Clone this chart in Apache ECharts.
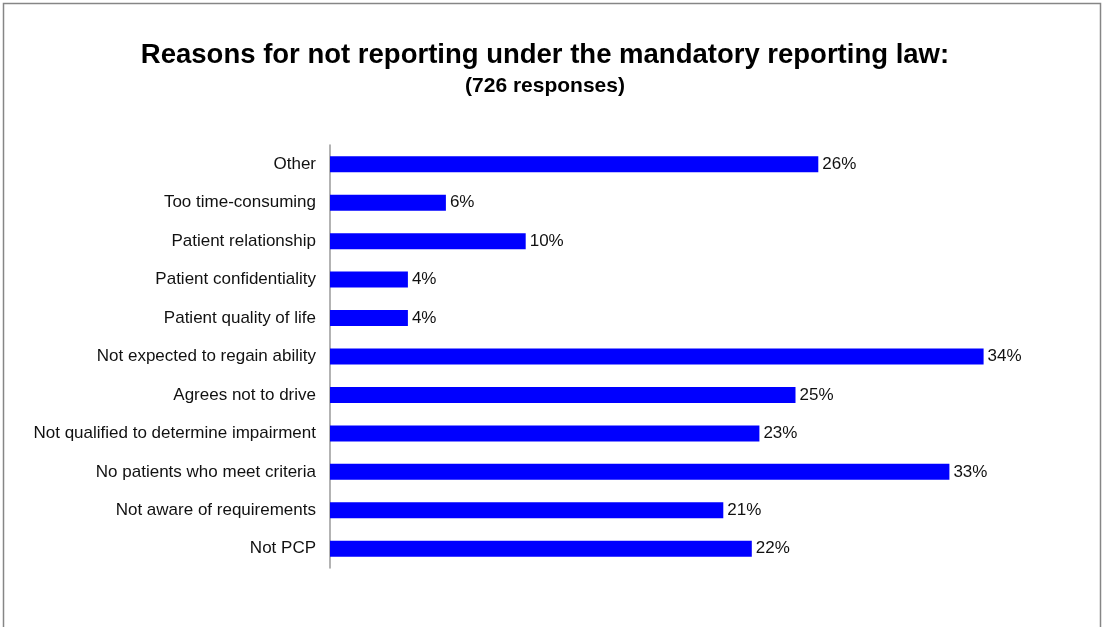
<!DOCTYPE html>
<html>
<head>
<meta charset="utf-8">
<script src="https://cdn.jsdelivr.net/npm/echarts@6/dist/echarts.min.js"></script>
<style>
html,body{margin:0;padding:0;background:#fff;}
#chart{width:1105px;height:627px;}
</style>
</head>
<body>
<div id="chart"></div>
<script>
var titleText = 'Reasons for not reporting under the mandatory reporting law:';
var subtitleText = '(726 responses)';
var categories = [
  'Other',
  'Too time-consuming',
  'Patient relationship',
  'Patient confidentiality',
  'Patient quality of life',
  'Not expected to regain ability',
  'Agrees not to drive',
  'Not qualified to determine impairment',
  'No patients who meet criteria',
  'Not aware of requirements',
  'Not PCP'
];
var values = [25.7, 6.1, 10.3, 4.1, 4.1, 34.4, 24.5, 22.6, 32.6, 20.7, 22.2];

var chart = echarts.init(document.getElementById('chart'), null, {renderer: 'canvas'});
var font = 'Liberation Sans, Arial, Helvetica, sans-serif';
chart.setOption({
  backgroundColor: '#ffffff',
  animation: false,
  title: {
    text: titleText,
    subtext: subtitleText,
    left: 540,
    textAlign: 'center',
    top: 36,
    itemGap: 7,
    textStyle: {fontFamily: font, fontWeight: 'bold', fontSize: 27.5, color: '#000'},
    subtextStyle: {fontFamily: font, fontWeight: 'bold', fontSize: 21, color: '#000'}
  },
  graphic: [{
    type: 'rect',
    shape: {x: 3.5, y: 3.5, width: 1097, height: 660},
    style: {fill: 'none', stroke: '#868686', lineWidth: 1.5},
    silent: true
  }],
  grid: {left: 330, top: 145, width: 760, height: 423, containLabel: false},
  xAxis: {
    type: 'value', min: 0, max: 40,
    show: false
  },
  yAxis: {
    type: 'category',
    data: categories,
    inverse: true,
    axisLine: {show: true, lineStyle: {color: '#9a9a9a', width: 1.5}},
    axisTick: {show: false},
    axisLabel: {fontFamily: font, fontSize: 17, color: '#111', margin: 14, padding: [2, 0, 0, 0]}
  },
  series: [{
    type: 'bar',
    data: values,
    barWidth: 16,
    itemStyle: {color: '#0000ff'},
    label: {
      show: true,
      position: 'right',
      distance: 4,
      fontFamily: font,
      fontSize: 17,
      color: '#111',
      formatter: function (p) { return Math.round(p.value) + '%'; }
    }
  }]
});
</script>
</body>
</html>
